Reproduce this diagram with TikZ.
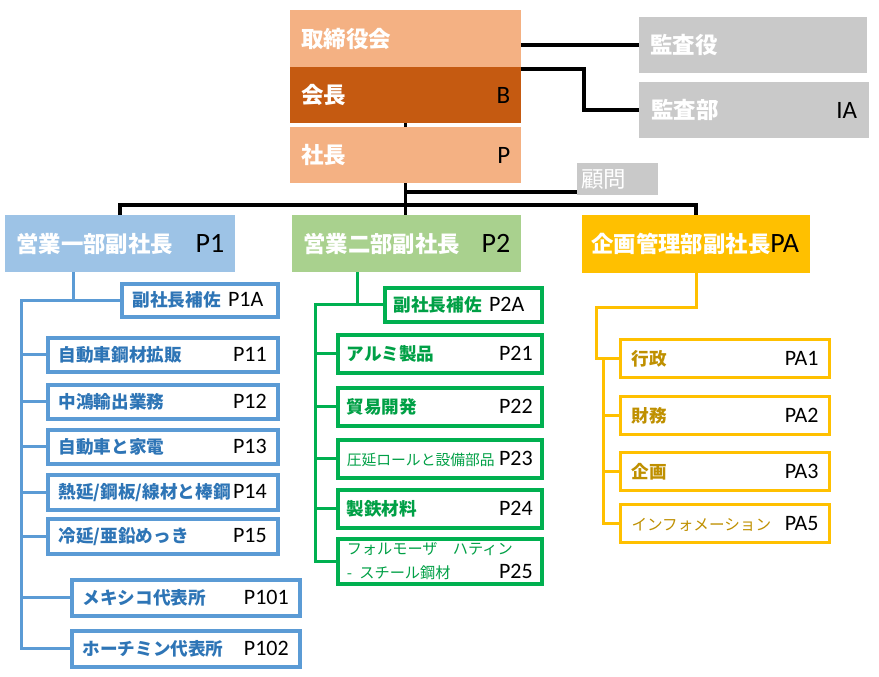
\documentclass[tikz,border=0pt]{standalone}
\usepackage{fontspec}
\setmainfont{Carlito}
\newfontfamily\jpf[Scale=0.8]{Noto Sans CJK JP}
\newfontfamily\jpbf[Scale=0.9]{Noto Sans CJK JP}
\newcommand\jp{\jpf\bfseries}
\newcommand\jpb{\jpbf\bfseries}
\newcommand\jpr{\jpf\mdseries}
\definecolor{lorange}{HTML}{F4B183}
\definecolor{dorange}{HTML}{C55A11}
\definecolor{lgray}{HTML}{C9C9C9}
\definecolor{lblue}{HTML}{9DC3E6}
\definecolor{lgreen}{HTML}{A9D18E}
\definecolor{gold}{HTML}{FFC000}
\definecolor{bblue}{HTML}{5B9BD5}
\definecolor{btext}{HTML}{2E75B6}
\definecolor{ggreen}{HTML}{00B050}
\definecolor{gtext}{HTML}{00A046}
\definecolor{ytext}{HTML}{BF9000}
\newcommand\cd[1]{\textcolor{black}{#1}}
\newcommand\gap{\hskip 0pt plus 1filll}
\tikzset{
  box/.style={rectangle, anchor=north west, inner xsep=11pt, inner ysep=0pt, align=left},
  topbox/.style={box, text=white, font=\fontsize{25}{27}\selectfont},
  vpbox/.style={box, text=white, font=\fontsize{28}{30}\selectfont},
  subbox/.style={box, draw, fill=white, line width=3.5pt, font=\fontsize{22}{24}\selectfont},
  kline/.style={line width=3.5pt, black},
  bline/.style={line width=3pt, bblue},
  gline/.style={line width=3pt, ggreen},
  yline/.style={line width=3pt, gold},
}
\begin{document}
\begin{tikzpicture}[x=1pt,y=-1pt]
\useasboundingbox (0,0) rectangle (879,677);

% top
\node[topbox, fill=lorange, minimum height=57, text width=209pt] (board) at (290,10) {\jpb 取締役会};
\node[topbox, fill=dorange, minimum height=56, text width=209pt] (chair) at (290,67) {{\jpb 会長}\gap\cd{B}};
\node[topbox, fill=lorange, minimum height=56, text width=209pt] (pres) at (290,127) {{\jpb 社長}\gap\cd{P}};
\node[topbox, fill=lgray, minimum height=56, text width=206pt] (kyaku) at (639,17) {\jpb 監査役};
\node[topbox, fill=lgray, minimum height=56, text width=206pt, inner xsep=12pt] (kbu) at (639,82) {{\jpb 監査部}\gap\cd{IA}};
\node[topbox, fill=lgray, minimum height=32, inner xsep=4pt, text width=73pt] (komon) at (577,163) {\jpbf 顧問};

% vice presidents
\node[vpbox, fill=lblue, minimum height=57, text width=208pt] (vp1) at (5,215) {{\jp 営業一部副社長}\gap\cd{P1}};
\node[vpbox, fill=lgreen, minimum height=57, text width=207pt] (vp2) at (292,215) {{\jp 営業二部副社長}\gap\cd{P2}};
\node[vpbox, fill=gold, minimum height=58, text width=210pt, inner xsep=9pt] (vpa) at (582,215) {\centering{\jp 企画管理部副社長}\cd{PA}};

% sections
\foreach \n/\x/\y/\w/\h/\t/\c in {p1a/120/282/134/33/副社長補佐/\ P1A, p11/46/336/208/34/自動車鋼材拡販/\gap P11,
  p12/46/383/208/34/中鴻輸出業務/\gap P12, p13/46/428/208/34/自動車と家電/\gap P13,
  p14/46/473/208/35/{熱延/鋼板/線材と棒鋼}/\gap P14, p15/46/517/208/35/{冷延/亜鉛めっき}/\gap P15,
  p101/70/578/206/36/メキシコ代表所/\gap P101, p102/70/629/206/36/ホーチミン代表所/\gap P102}
  \node[subbox, draw=bblue, text=btext, minimum height=\h, text width=\w pt] (\n) at (\x,\y) {{\jp \t}\cd{\c}};

\foreach \n/\x/\y/\w/\h/\t/\c in {p2a/383/286/139/34/副社長補佐/\ P2A, p21/336/333/186/38/アルミ製品/\gap P21,
  p22/336/386/186/38/貿易開発/\gap P22, p23/336/438/186/38/{\fontsize{18.5}{20}\jpr 圧延ロールと設備部品}/\gap P23,
  p24/336/488/186/38/製鉄材料/\gap P24, p25/336/537/186/45/{\fontsize{19}{21}\jpr フォルモーザ　ハティン\\ - スチール鋼材}/\gap P25}
  \node[subbox, draw=ggreen, text=gtext, inner xsep=9pt, minimum height=\h, text width=\w pt] (\n) at (\x,\y) {{\jp \t}\cd{\c}};

\foreach \n/\y/\t/\c in {pa1/338/行政/PA1, pa2/395/財務/PA2, pa3/451/企画/PA3,
  pa5/503/{\fontsize{19.5}{21}\jpr インフォメーション}/PA5}
  \node[subbox, draw=gold, text=ytext, line width=3pt, minimum height=38, text width=187pt] (\n) at (619,\y) {{\jp \t}\gap\cd{\c}};

% black lines
\coordinate (adv) at (0,192);
\coordinate (bus) at (0,205);
\draw[kline] (board.east |- kyaku.west) -- (kyaku.west);
\draw[kline] ([yshift=-2pt]chair.north east) -| ([xshift=-55pt]kbu.west) -- (kbu.west);
\draw[kline] (chair.south) -- (pres.north);
\draw[kline] (pres.south) -- (pres.south |- vp2.north);
\draw[kline] (pres.south |- adv) -- (komon.west |- adv);
\draw[kline] (vp1.north) |- (vpa.north |- bus) -- (vpa.north);

% blue lines
\coordinate (bj) at (73,0);
\coordinate (bx) at (21,0);
\draw[bline] (vp1.south -| bj) -- (p1a.west -| bj);
\draw[bline] (p1a.west) -- (p1a.west -| bx) |- (p102.west);
\foreach \n in {p11,p12,p13,p14,p15,p101}
  \draw[bline] (\n.west -| bx) -- (\n.west);

% green lines
\coordinate (gj) at (357,0);
\coordinate (gx) at (315,0);
\draw[gline] (vp2.south -| gj) -- (p2a.west -| gj);
\draw[gline] (p2a.west) -- (p2a.west -| gx) |- (p25.west);
\foreach \n in {p21,p22,p23,p24}
  \draw[gline] (\n.west -| gx) -- (\n.west);

% gold lines
\coordinate (yx) at (596,307);
\coordinate (yx2) at (603,0);
\draw[yline] (vpa.south) |- (yx) |- (pa1.west);
\draw[yline] (pa1.west -| yx2) |- (pa5.west);
\foreach \n in {pa2,pa3}
  \draw[yline] (\n.west -| yx2) -- (\n.west);

\end{tikzpicture}
\end{document}
